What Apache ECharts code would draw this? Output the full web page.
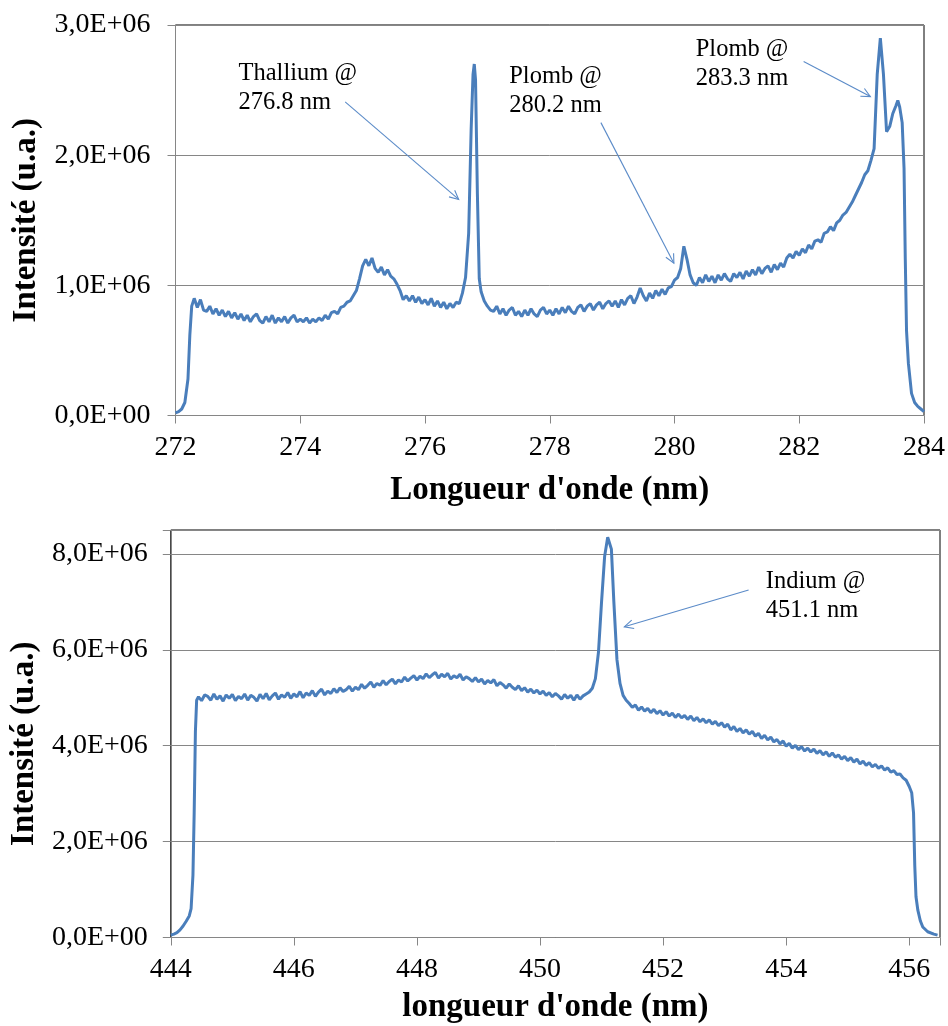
<!DOCTYPE html>
<html>
<head>
<meta charset="utf-8">
<script src="https://cdn.jsdelivr.net/npm/echarts@6/dist/echarts.min.js"></script>
<style>
html,body{margin:0;padding:0;background:#fff;}
#c{width:948px;height:1026px;}
</style>
</head>
<body>
<div id="c"></div>
<script>
// Intensities in units of 1E+06 (u.a.)
const topXTicks = [272, 274, 276, 278, 280, 282, 284];
const bottomXTicks = [444, 446, 448, 450, 452, 454, 456];

const topSpectrum = [
[272.00,0.02],[272.05,0.03],[272.10,0.05],[272.15,0.10],[272.20,0.28],[272.23,0.62],[272.26,0.84],[272.30,0.90],[272.35,0.83],[272.40,0.89],
[272.45,0.81],[272.50,0.80],[272.55,0.84],[272.60,0.78],[272.65,0.82],[272.70,0.77],[272.75,0.81],[272.80,0.76],[272.85,0.80],[272.90,0.75],[272.95,0.79],
[273.00,0.74],[273.05,0.78],[273.10,0.73],[273.15,0.77],[273.20,0.72],[273.25,0.76],[273.30,0.78],[273.35,0.73],[273.40,0.71],[273.45,0.76],
[273.50,0.72],[273.55,0.77],[273.60,0.71],[273.65,0.75],[273.70,0.72],[273.75,0.76],[273.80,0.71],[273.85,0.75],[273.90,0.77],[273.95,0.72],
[274.00,0.74],[274.05,0.72],[274.10,0.75],[274.15,0.71],[274.20,0.74],[274.25,0.72],[274.30,0.75],[274.35,0.73],[274.40,0.77],[274.45,0.74],
[274.50,0.79],[274.55,0.80],[274.60,0.78],[274.65,0.83],[274.70,0.84],[274.75,0.87],[274.80,0.88],[274.85,0.92],[274.90,0.96],[274.95,1.05],
[275.00,1.15],[275.05,1.20],[275.10,1.15],[275.15,1.21],[275.20,1.13],[275.25,1.10],[275.30,1.14],[275.35,1.08],[275.40,1.12],[275.45,1.07],
[275.50,1.05],[275.55,1.01],[275.60,0.96],[275.65,0.89],[275.70,0.92],[275.75,0.88],[275.80,0.92],[275.85,0.87],[275.90,0.91],[275.95,0.86],
[276.00,0.89],[276.05,0.85],[276.10,0.90],[276.15,0.84],[276.20,0.88],[276.25,0.83],[276.30,0.87],[276.35,0.82],[276.40,0.86],[276.45,0.83],
[276.50,0.87],[276.55,0.86],[276.60,0.94],[276.65,1.06],[276.70,1.40],[276.74,2.20],[276.77,2.62],[276.79,2.70],[276.81,2.58],[276.84,1.70],
[276.87,1.05],[276.90,0.95],[276.95,0.88],
[277.00,0.84],[277.05,0.81],[277.10,0.80],[277.15,0.84],[277.20,0.78],[277.25,0.82],[277.30,0.77],[277.35,0.81],[277.40,0.83],[277.45,0.77],
[277.50,0.80],[277.55,0.76],[277.60,0.81],[277.65,0.77],[277.70,0.82],[277.75,0.78],[277.80,0.76],[277.85,0.81],[277.90,0.83],[277.95,0.78],
[278.00,0.81],[278.05,0.77],[278.10,0.82],[278.15,0.78],[278.20,0.83],[278.25,0.79],[278.30,0.84],[278.35,0.80],[278.40,0.78],[278.45,0.83],
[278.50,0.85],[278.55,0.80],[278.60,0.84],[278.65,0.86],[278.70,0.81],[278.75,0.85],[278.80,0.87],[278.85,0.82],[278.90,0.86],[278.95,0.88],
[279.00,0.84],[279.05,0.88],[279.10,0.83],[279.15,0.89],[279.20,0.85],[279.25,0.90],[279.30,0.92],[279.35,0.86],[279.40,0.91],[279.45,0.98],
[279.50,0.92],[279.55,0.88],[279.60,0.94],[279.65,0.90],[279.70,0.96],[279.75,0.92],[279.80,0.97],[279.85,0.93],[279.90,0.98],[279.95,0.99],
[280.00,1.04],[280.05,1.06],[280.10,1.13],[280.15,1.30],[280.20,1.20],[280.25,1.08],[280.30,1.02],[280.35,1.00],[280.40,1.06],[280.45,1.02],
[280.50,1.08],[280.55,1.03],[280.60,1.07],[280.65,1.02],[280.70,1.08],[280.75,1.04],[280.80,1.09],[280.85,1.05],[280.90,1.03],[280.95,1.09],
[281.00,1.06],[281.05,1.10],[281.10,1.05],[281.15,1.11],[281.20,1.07],[281.25,1.12],[281.30,1.08],[281.35,1.14],[281.40,1.09],[281.45,1.13],
[281.50,1.15],[281.55,1.10],[281.60,1.16],[281.65,1.12],[281.70,1.17],[281.75,1.14],[281.80,1.21],[281.85,1.24],[281.90,1.21],[281.95,1.26],
[282.00,1.23],[282.05,1.28],[282.10,1.25],[282.15,1.31],[282.20,1.28],[282.25,1.34],[282.30,1.35],[282.35,1.33],[282.40,1.40],[282.45,1.41],
[282.50,1.45],[282.55,1.42],[282.60,1.48],[282.65,1.50],[282.70,1.54],[282.75,1.56],[282.80,1.60],[282.85,1.64],[282.90,1.69],[282.95,1.74],
[283.00,1.79],[283.05,1.85],[283.10,1.88],[283.15,1.96],[283.20,2.05],[283.25,2.62],[283.30,2.90],[283.35,2.62],[283.40,2.18],[283.45,2.22],
[283.50,2.32],[283.55,2.38],[283.58,2.42],[283.61,2.37],[283.65,2.25],[283.68,1.90],[283.70,1.20],[283.72,0.65],[283.75,0.40],[283.80,0.17],
[283.85,0.10],[283.90,0.07],[283.95,0.05],[284.00,0.03]
];

const bottomSpectrum = [
[444.00,0.05],[444.05,0.07],[444.10,0.10],[444.15,0.16],[444.20,0.24],[444.25,0.34],[444.30,0.45],[444.33,0.60],[444.36,1.30],[444.38,2.60],
[444.40,4.30],[444.42,4.95],[444.45,5.02],[444.50,4.94],[444.55,5.06],[444.60,5.03],[444.65,4.95],[444.70,5.08],[444.75,4.97],[444.80,5.04],
[444.85,4.93],[444.90,5.06],[444.95,4.99],
[445.00,5.07],[445.05,4.94],[445.10,5.03],[445.15,4.98],[445.20,5.08],[445.25,4.95],[445.30,5.05],[445.35,5.01],[445.40,4.93],[445.45,5.07],
[445.50,4.98],[445.55,5.09],[445.60,4.96],[445.65,5.04],[445.70,5.10],[445.75,4.97],[445.80,5.06],[445.85,5.01],[445.90,5.11],[445.95,4.99],
[446.00,5.08],[446.05,5.02],[446.10,5.13],[446.15,5.00],[446.20,5.10],[446.25,5.05],[446.30,5.15],[446.35,5.03],[446.40,5.12],[446.45,5.18],
[446.50,5.06],[446.55,5.14],[446.60,5.09],[446.65,5.19],[446.70,5.11],[446.75,5.21],[446.80,5.13],[446.85,5.17],[446.90,5.24],[446.95,5.14],
[447.00,5.22],[447.05,5.17],[447.10,5.28],[447.15,5.20],[447.20,5.26],[447.25,5.33],[447.30,5.22],[447.35,5.30],[447.40,5.26],[447.45,5.36],
[447.50,5.27],[447.55,5.34],[447.60,5.39],[447.65,5.29],[447.70,5.37],[447.75,5.33],[447.80,5.43],[447.85,5.35],[447.90,5.41],[447.95,5.46],
[448.00,5.37],[448.05,5.45],[448.10,5.40],[448.15,5.50],[448.20,5.42],[448.25,5.48],[448.30,5.53],[448.35,5.41],[448.40,5.49],[448.45,5.44],
[448.50,5.51],[448.55,5.39],[448.60,5.46],[448.65,5.42],[448.70,5.49],[448.75,5.37],[448.80,5.44],[448.85,5.40],[448.90,5.34],[448.95,5.42],
[449.00,5.33],[449.05,5.39],[449.10,5.29],[449.15,5.36],[449.20,5.31],[449.25,5.38],[449.30,5.25],[449.35,5.32],[449.40,5.27],[449.45,5.20],
[449.50,5.29],[449.55,5.22],[449.60,5.17],[449.65,5.25],[449.70,5.15],[449.75,5.21],[449.80,5.12],[449.85,5.18],[449.90,5.10],[449.95,5.16],
[450.00,5.08],[450.05,5.14],[450.10,5.05],[450.15,5.11],[450.20,5.02],[450.25,5.09],[450.30,5.04],[450.35,4.97],[450.40,5.07],[450.45,4.99],
[450.50,5.05],[450.55,4.95],[450.60,5.06],[450.65,4.97],[450.70,5.04],[450.75,5.08],[450.80,5.12],[450.85,5.20],[450.90,5.40],[450.95,5.95],
[451.00,7.00],[451.05,7.95],[451.10,8.35],[451.13,8.38],[451.16,8.10],[451.20,7.00],[451.25,5.80],[451.30,5.30],[451.35,5.05],[451.40,4.95],
[451.45,4.88],[451.50,4.80],[451.55,4.85],[451.60,4.74],[451.65,4.81],[451.70,4.72],[451.75,4.78],[451.80,4.69],[451.85,4.76],[451.90,4.67],[451.95,4.73],
[452.00,4.64],[452.05,4.71],[452.10,4.62],[452.15,4.68],[452.20,4.59],[452.25,4.66],[452.30,4.58],[452.35,4.63],[452.40,4.55],[452.45,4.62],
[452.50,4.52],[452.55,4.59],[452.60,4.50],[452.65,4.56],[452.70,4.48],[452.75,4.54],[452.80,4.45],[452.85,4.51],[452.90,4.42],[452.95,4.48],
[453.00,4.39],[453.05,4.45],[453.10,4.33],[453.15,4.40],[453.20,4.30],[453.25,4.36],[453.30,4.27],[453.35,4.33],[453.40,4.24],[453.45,4.30],
[453.50,4.20],[453.55,4.26],[453.60,4.15],[453.65,4.22],[453.70,4.12],[453.75,4.18],[453.80,4.08],[453.85,4.13],[453.90,4.04],[453.95,4.10],
[454.00,3.99],[454.05,4.05],[454.10,3.95],[454.15,4.01],[454.20,3.92],[454.25,3.98],[454.30,3.89],[454.35,3.95],[454.40,3.87],[454.45,3.93],
[454.50,3.84],[454.55,3.90],[454.60,3.81],[454.65,3.87],[454.70,3.78],[454.75,3.85],[454.80,3.76],[454.85,3.81],[454.90,3.72],[454.95,3.78],
[455.00,3.69],[455.05,3.75],[455.10,3.66],[455.15,3.72],[455.20,3.62],[455.25,3.68],[455.30,3.59],[455.35,3.65],[455.40,3.56],[455.45,3.61],
[455.50,3.53],[455.55,3.58],[455.60,3.49],[455.65,3.54],[455.70,3.45],[455.75,3.48],[455.80,3.40],[455.85,3.41],[455.90,3.33],[455.95,3.28],
[456.00,3.15],[456.04,3.02],[456.07,2.60],[456.09,1.50],[456.11,0.85],[456.14,0.57],[456.18,0.35],[456.22,0.22],[456.30,0.12],[456.40,0.07],
[456.46,0.05]
];

const topNotes = [
  {lines: ['Thallium @', '276.8 nm'], textAt: [273.01, 2.62], from: [274.72, 2.41], to: [276.54, 1.66]},
  {lines: ['Plomb @', '280.2 nm'], textAt: [277.35, 2.60], from: [278.82, 2.25], to: [279.99, 1.17]},
  {lines: ['Plomb @', '283.3 nm'], textAt: [280.34, 2.81], from: [282.07, 2.72], to: [283.14, 2.45]}
];
const bottomNotes = [
  {lines: ['Indium @', '451.1 nm'], textAt: [453.67, 7.42], from: [453.39, 7.25], to: [451.37, 6.48]}
];

const SERIF = '"Liberation Serif", "Times New Roman", serif';
const LINE_COLOR = '#4a7ebb';
const GRID_COLOR = '#868686';

function yFmt(v) {
  if (v === 0) return '0,0E+00';
  return v.toFixed(1).replace('.', ',') + 'E+06';
}

function xAxisCfg(gi, min, max, name, gap) {
  return {
    type: 'value', gridIndex: gi, min: min, max: max, interval: 2,
    name: name, nameLocation: 'middle', nameGap: gap,
    nameTextStyle: {fontFamily: SERIF, fontSize: 33, fontWeight: 'bold', color: '#000'},
    axisLine: {show: true, onZero: false, lineStyle: {color: GRID_COLOR, width: 1}},
    axisTick: {show: true, inside: false, length: 8, lineStyle: {color: GRID_COLOR}},
    axisLabel: {
      margin: 18, fontFamily: SERIF, fontSize: 28, color: '#000',
      formatter: v => (Math.abs(v % 2) < 1e-9 ? String(v) : '')
    },
    splitLine: {show: false}
  };
}

function yAxisCfg(gi, max, interval, gap, margin, pad) {
  return {
    type: 'value', gridIndex: gi, min: 0, max: max, interval: interval,
    name: 'Intensité (u.a.)', nameLocation: 'middle', nameGap: gap, nameRotate: 90,
    nameTextStyle: {fontFamily: SERIF, fontSize: 33, fontWeight: 'bold', color: '#000', padding: pad},
    axisLine: {show: true, lineStyle: {color: GRID_COLOR, width: 1}},
    axisTick: {show: true, inside: false, length: 8, lineStyle: {color: GRID_COLOR}},
    axisLabel: {
      margin: margin, fontFamily: SERIF, fontSize: 28, color: '#000',
      formatter: v => (Math.abs(v % interval) < 1e-9 ? yFmt(v) : '')
    },
    splitLine: {show: true, lineStyle: {color: GRID_COLOR, width: 1}}
  };
}

const chart = echarts.init(document.getElementById('c'), null, {renderer: 'canvas'});
chart.setOption({
  animation: false,
  backgroundColor: '#fff',
  grid: [
    {left: 175.5, top: 25, width: 751, height: 390.5, show: true, borderColor: '#000', borderWidth: 1, backgroundColor: 'transparent'},
    {left: 168, top: 530, width: 772, height: 407.5, show: true, borderColor: '#000', borderWidth: 1, backgroundColor: 'transparent'}
  ],
  xAxis: [
    xAxisCfg(0, 272, 284, "Longueur d'onde (nm)", 58),
    xAxisCfg(1, 444, 456.5, "longueur d'onde (nm)", 53)
  ],
  yAxis: [
    yAxisCfg(0, 3, 1, 133, 25, [0, 0, 0, 0]),
    yAxisCfg(1, 8.5, 2, 122, 23, [0, 20, 0, 0])
  ],
  series: [
    {type: 'line', xAxisIndex: 0, yAxisIndex: 0, data: topSpectrum, showSymbol: false, symbol: 'none',
     lineStyle: {color: LINE_COLOR, width: 3}, itemStyle: {color: LINE_COLOR}, clip: true},
    {type: 'line', xAxisIndex: 1, yAxisIndex: 1, data: bottomSpectrum, showSymbol: false, symbol: 'none',
     lineStyle: {color: LINE_COLOR, width: 3}, itemStyle: {color: LINE_COLOR}, clip: false}
  ]
});

function noteGraphics(notes, gi) {
  const out = [];
  notes.forEach(n => {
    const t = chart.convertToPixel({gridIndex: gi}, n.textAt);
    const a = chart.convertToPixel({gridIndex: gi}, n.from);
    const b = chart.convertToPixel({gridIndex: gi}, n.to);
    out.push({
      type: 'text', x: t[0], y: t[1] - 15, z: 100,
      style: {text: n.lines.join('\n'), fontFamily: SERIF, fontSize: 24.5, lineHeight: 29,
              fill: '#000', align: 'left', verticalAlign: 'top'}
    });
    out.push({
      type: 'line', z: 100,
      shape: {x1: a[0], y1: a[1], x2: b[0], y2: b[1]},
      style: {stroke: '#5b8bc8', lineWidth: 1.1}
    });
    const ang = Math.atan2(b[1] - a[1], b[0] - a[0]);
    const L = 10, spread = 0.45;
    const p1 = [b[0] - L * Math.cos(ang - spread), b[1] - L * Math.sin(ang - spread)];
    const p2 = [b[0] - L * Math.cos(ang + spread), b[1] - L * Math.sin(ang + spread)];
    out.push({
      type: 'polyline', z: 100,
      shape: {points: [p1, b, p2]},
      style: {stroke: '#5b8bc8', lineWidth: 1.1, fill: null}
    });
  });
  return out;
}

chart.setOption({graphic: noteGraphics(topNotes, 0).concat(noteGraphics(bottomNotes, 1))});
</script>
</body>
</html>
